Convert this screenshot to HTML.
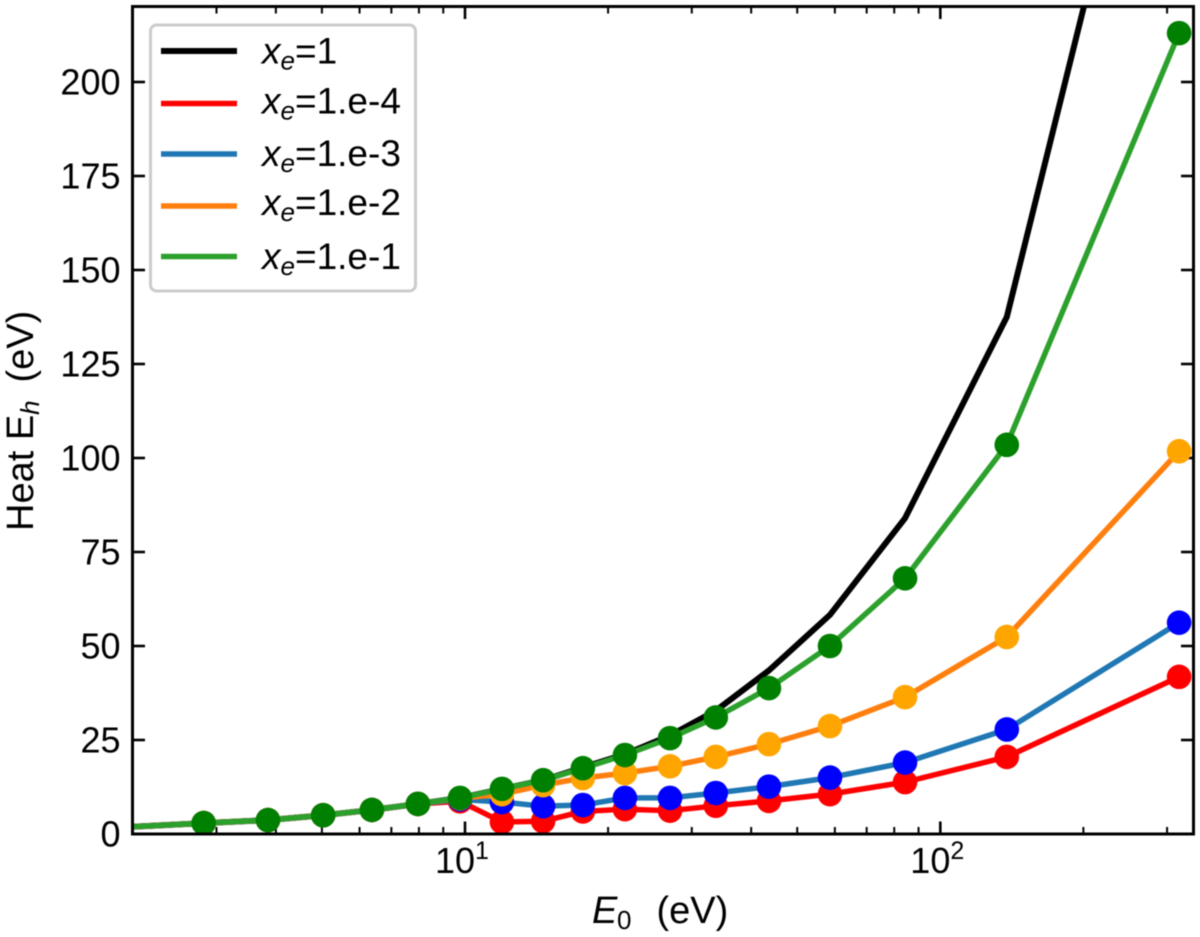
<!DOCTYPE html>
<html lang="en">
<head>
<meta charset="utf-8">
<title>Heat vs E0</title>
<style>
html,body{margin:0;padding:0;background:#fff;width:1200px;height:937px;overflow:hidden}
svg{display:block;filter:blur(0.4px)}
text{font-family:"Liberation Sans",Arial,sans-serif;fill:#000}
</style>
</head>
<body>
<svg id="chart" xmlns="http://www.w3.org/2000/svg" width="1200" height="937" viewBox="0 0 1200 937">
  <defs><clipPath id="plot-clip"><rect x="132.5" y="6.5" width="1061" height="827.5"/></clipPath></defs>
  <rect x="0" y="0" width="1200" height="937" fill="#fff"/>
  <g id="ticks"></g>
  <g id="tick-labels"></g>
  <g id="series" clip-path="url(#plot-clip)"></g>
  <rect x="132.5" y="6.5" width="1061" height="827.5" fill="none" stroke="#000" stroke-width="3"/>
  <g id="legend">
    <rect x="150.5" y="25" width="265" height="266" rx="6" fill="#fff" stroke="#ccc" stroke-width="3"/>
    <line x1="161" x2="237" y1="51" y2="51" stroke="#000000" stroke-width="6"/>
    <line x1="161" x2="237" y1="103.5" y2="103.5" stroke="#ff0000" stroke-width="5.5"/>
    <line x1="161" x2="237" y1="154" y2="154" stroke="#1f77b4" stroke-width="5.5"/>
    <line x1="161" x2="237" y1="206" y2="206" stroke="#ff7f0e" stroke-width="5.5"/>
    <line x1="161" x2="237" y1="256.5" y2="256.5" stroke="#2ca02c" stroke-width="5.5"/>
    <text x="262" y="63.5" font-size="37"><tspan font-style="italic">x</tspan><tspan font-style="italic" font-size="26" dy="6">e</tspan><tspan dy="-6">=1</tspan></text>
    <text x="262" y="113.5" font-size="37"><tspan font-style="italic">x</tspan><tspan font-style="italic" font-size="26" dy="6">e</tspan><tspan dy="-6">=1.e-4</tspan></text>
    <text x="262" y="166" font-size="37"><tspan font-style="italic">x</tspan><tspan font-style="italic" font-size="26" dy="6">e</tspan><tspan dy="-6">=1.e-3</tspan></text>
    <text x="262" y="215" font-size="37"><tspan font-style="italic">x</tspan><tspan font-style="italic" font-size="26" dy="6">e</tspan><tspan dy="-6">=1.e-2</tspan></text>
    <text x="262" y="269" font-size="37"><tspan font-style="italic">x</tspan><tspan font-style="italic" font-size="26" dy="6">e</tspan><tspan dy="-6">=1.e-1</tspan></text>
  </g>
  <text y="923" font-size="38"><tspan x="592" font-style="italic">E</tspan><tspan x="617" font-size="26" dy="6">0</tspan><tspan x="656.5" dy="-6">(eV)</tspan></text>
  <text transform="translate(33,531) rotate(-90)" font-size="38">Heat E<tspan font-style="italic" font-size="26" dy="6">h</tspan><tspan x="148.5" dy="-6">(eV)</tspan></text>
</svg>
<script>
// Chart data
const energies = [1.5, 2.82, 3.85, 5.03, 6.37, 7.96, 9.76, 11.96, 14.6, 17.7, 21.7, 27, 33.7, 43.6, 58.6, 84.3, 138, 318];
const heatXe1   = [1.1, 2.9, 3.7, 5, 6.4, 8, 9.6, 12, 14.3, 17.7, 21.2, 26.2, 32.8, 43.5, 58.3, 84, 137.5, 322];
const heatXe1e4 = [1.1, 2.9, 3.7, 5, 6.4, 8, 8.7, 3.2, 3.4, 6, 6.6, 6.2, 7.5, 8.8, 10.6, 13.8, 20.5, 41.8];
const heatXe1e3 = [1.1, 2.9, 3.7, 5, 6.4, 8, 9.2, 8.5, 7.4, 7.7, 9.6, 9.6, 10.9, 12.6, 15, 19, 27.8, 56.2];
const heatXe1e2 = [1.1, 2.9, 3.7, 5, 6.4, 8, 9.5, 10.6, 13, 14.9, 16.2, 18, 20.5, 23.9, 28.7, 36.4, 52.4, 101.8];
const heatXe1e1 = [1.1, 2.9, 3.7, 5, 6.4, 8, 9.6, 12, 14.3, 17.5, 21, 25.5, 31, 38.8, 50, 68, 103.5, 213];
const yTickValues = [0, 25, 50, 75, 100, 125, 150, 175, 200];
const xMajorTicks = [10, 100];
const xMajorExponents = ['1', '2'];
const xMinorTicks = [3, 4, 5, 6, 7, 8, 9, 20, 30, 40, 50, 60, 70, 80, 90, 200, 300];

// Axis functions
function xScale(v) { return 465 + (Math.log10(v) - 1) * 475.3; }
function yScale(v) { return 834 - v * 3.76; }

const NS = 'http://www.w3.org/2000/svg';
function mk(tag, parent, attrs) {
  const el = document.createElementNS(NS, tag);
  for (const k in attrs) el.setAttribute(k, attrs[k]);
  parent.appendChild(el);
  return el;
}

const tickGroup = document.getElementById('ticks');
const labelGroup = document.getElementById('tick-labels');
const seriesGroup = document.getElementById('series');

yTickValues.forEach(function (v) {
  const y = yScale(v);
  const left = mk('line', tickGroup, {x1: 132.5, x2: 145, y1: y, y2: y, stroke: '#000', 'stroke-width': 2.6});
  
  
  const right = mk('line', tickGroup, {x1: 1181, x2: 1193.5, y1: y, y2: y, stroke: '#000', 'stroke-width': 2.6});
  
  
  const label = mk('text', labelGroup, {x: 120.5, y: y + 12.5, 'text-anchor': 'end', 'font-size': 36});
  label.textContent = String(v);
  
  
});

xMajorTicks.forEach(function (v, i) {
  const x = xScale(v);
  const bottom = mk('line', tickGroup, {x1: x, x2: x, y1: 834, y2: 821.5, stroke: '#000', 'stroke-width': 2.6});
  
  
  const top = mk('line', tickGroup, {x1: x, x2: x, y1: 6.5, y2: 19, stroke: '#000', 'stroke-width': 2.6});
  
  
  const label = mk('text', labelGroup, {x: x - 30, y: 873, 'font-size': 36});
  
  
  label.appendChild(document.createTextNode('10'));
  const sup = mk('tspan', label, {'font-size': 25, dy: -14});
  sup.textContent = xMajorExponents[i];
});

xMinorTicks.forEach(function (v) {
  const x = xScale(v);
  const bottom = mk('line', tickGroup, {x1: x, x2: x, y1: 834, y2: 827, stroke: '#000', 'stroke-width': 2});
  
  
  const top = mk('line', tickGroup, {x1: x, x2: x, y1: 6.5, y2: 13.5, stroke: '#000', 'stroke-width': 2});
  
  
});

function drawSeries(values, lineColor, markerColor, lineWidth, name) {
  const pts = values.map(function (v, i) { return xScale(energies[i]) + ',' + yScale(v); }).join(' ');
  const line = mk('polyline', seriesGroup, {points: pts, fill: 'none', stroke: lineColor, 'stroke-width': lineWidth, 'stroke-linejoin': 'round'});
  
  
  if (!markerColor) return;
  values.forEach(function (v, i) {
    const dot = mk('circle', seriesGroup, {cx: xScale(energies[i]), cy: yScale(v), r: 12.3, fill: markerColor});
    
    
  });
}

drawSeries(heatXe1, '#000000', null, 6, 'xe-1');
drawSeries(heatXe1e4, '#ff0000', '#ff0000', 5.5, 'xe-1e-4');
drawSeries(heatXe1e3, '#1f77b4', '#0000ff', 5.5, 'xe-1e-3');
drawSeries(heatXe1e2, '#ff7f0e', '#ffa500', 5.5, 'xe-1e-2');
drawSeries(heatXe1e1, '#2ca02c', '#008000', 5.5, 'xe-1e-1');
</script>
</body>
</html>
